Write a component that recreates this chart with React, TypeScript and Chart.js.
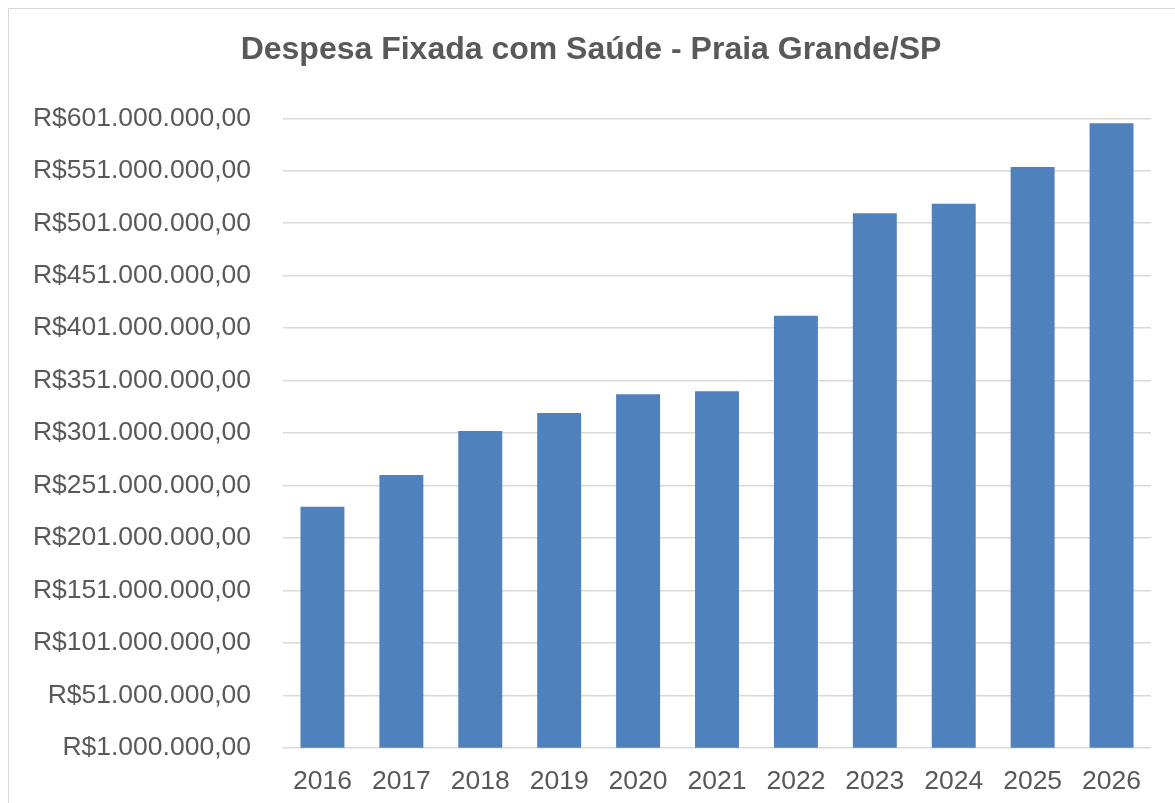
import React, { useEffect, useRef } from "react";
import { Chart, registerables } from "chart.js";

Chart.register(...registerables);

const chartTitle = "Despesa Fixada com Saúde - Praia Grande/SP";
const categories = ["2016", "2017", "2018", "2019", "2020", "2021", "2022", "2023", "2024", "2025", "2026"];
// values in millions of R$
const valuesMillions = [230.7, 261.0, 302.9, 320.1, 337.9, 340.8, 412.8, 510.4, 519.6, 554.6, 596.2];
const yTickMillions = [1, 51, 101, 151, 201, 251, 301, 351, 401, 451, 501, 551, 601];

const FONT = "'Liberation Sans', Arial, sans-serif";
const TEXT = "#595959";
const GRID = "#d9d9d9";
const BAR = "#4f81bd";

function formatBRL(v: number): string {
  const intPart = Math.round(v).toString();
  let out = "";
  for (let i = 0; i < intPart.length; i++) {
    const fromEnd = intPart.length - i;
    out += intPart[i];
    if (fromEnd > 1 && (fromEnd - 1) % 3 === 0) out += ".";
  }
  return "R$" + out + ",00";
}

export default function App() {
  const ref = useRef<HTMLCanvasElement | null>(null);

  useEffect(() => {
    if (!ref.current) return;
    const chart = new Chart(ref.current, {
      type: "bar",
      data: {
        labels: categories,
        datasets: [
          {
            data: valuesMillions.map((v) => v * 1e6),
            backgroundColor: BAR,
            borderWidth: 0,
            categoryPercentage: 0.557,
            barPercentage: 1,
          },
        ],
      },
      options: {
        responsive: false,
        animation: false,
        devicePixelRatio: 1,
        layout: { padding: { left: 31, right: 24, top: 8, bottom: 8 } },
        plugins: {
          legend: { display: false },
          tooltip: { enabled: false },
          title: {
            display: true,
            text: chartTitle,
            color: TEXT,
            font: { family: FONT, size: 32, weight: "bold" },
            padding: { top: 22.5, bottom: 49.4 },
          },
        },
        scales: {
          x: {
            grid: { display: false, drawTicks: false },
            border: { display: false },
            afterFit: (scale: any) => {
              scale.height = 47.3;
            },
            ticks: {
              color: TEXT,
              font: { family: FONT, size: 26.5 },
              padding: 18,
              maxRotation: 0,
            },
          },
          y: {
            min: yTickMillions[0] * 1e6,
            max: yTickMillions[yTickMillions.length - 1] * 1e6,
            afterBuildTicks: (scale: any) => {
              scale.ticks = yTickMillions.map((m) => ({ value: m * 1e6 }));
            },
            afterFit: (scale: any) => {
              scale.width = 252;
            },
            grid: { color: GRID, lineWidth: 1.5, drawTicks: false },
            border: { display: false },
            ticks: {
              color: TEXT,
              font: { family: FONT, size: 26.5 },
              padding: 32,
              callback: (v: any) => formatBRL(Number(v)),
            },
          },
        },
      },
    });
    return () => chart.destroy();
  }, []);

  return (
    <>
      <div
        style={{
          position: "fixed",
          left: 8,
          top: 8,
          width: 1200,
          height: 900,
          border: "1px solid #d9d9d9",
          background: "#ffffff",
        }}
      />
      <canvas
        ref={ref}
        width={1175}
        height={803}
        style={{ position: "fixed", left: 0, top: 0, width: 1175, height: 803 }}
      />
    </>
  );
}
